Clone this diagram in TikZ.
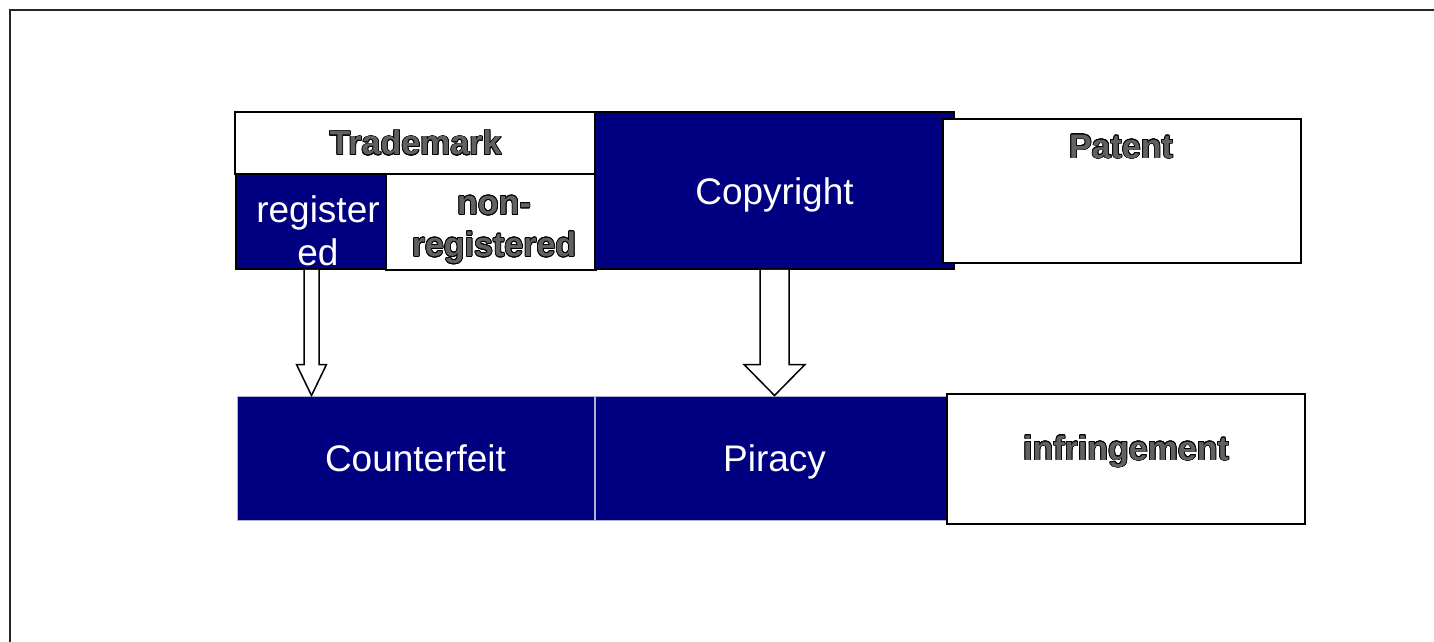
\documentclass[tikz,border=0pt]{standalone}
\usepackage{fontspec}
\setmainfont{Liberation Sans}
\usepackage{contour}
\usetikzlibrary{calc}
\usetikzlibrary{positioning}
\definecolor{navy}{HTML}{000080}
\contourlength{0.75pt}
\newcommand{\outl}[1]{\contour{black}{\textcolor{black!62}{#1}}}
% hollow block arrow: from, to, shaft half width, head half width, head length
\newcommand{\hollowarrow}[5]{
 \draw[hollow] let \p1=(#1), \p2=(#2) in
  (\x1-#3pt,\y1) -- (\x1-#3pt,\y2+#5pt) -- (\x1-#4pt,\y2+#5pt) -- (\x1,\y2)
  -- (\x1+#4pt,\y2+#5pt) -- (\x1+#3pt,\y2+#5pt) -- (\x1+#3pt,\y1);
}

\begin{document}
\begin{tikzpicture}[x=1pt,y=-1pt,
 navybox/.style={draw=black, line width=1.6pt, fill=navy, text=white, inner sep=0pt, text height=27pt, text depth=0pt, font=\fontsize{37}{43}\selectfont},
 flatbox/.style={draw=navy!30, line width=1pt, fill=navy, text=white, inner sep=0pt, text height=27pt, text depth=0pt, font=\fontsize{37}{43}\selectfont},
 whitebox/.style={draw=black, line width=1.6pt, fill=white, inner sep=0pt, font=\bfseries\fontsize{34}{42}\selectfont},
 wlabel/.style={text=white, inner sep=0pt, font=\fontsize{37}{43}\selectfont},
 olabel/.style={inner sep=0pt, font=\bfseries\fontsize{34}{42}\selectfont},
 hollow/.style={draw=black, line width=1.5pt, fill=white, line join=miter}]
\useasboundingbox (0,0) rectangle (1434,642);
\fill[white] (0,0) rectangle (1434,642);
\draw[line width=2.5pt, black!85] (10,642) -- (10,10) -- (1434,10);

% top row
\node[navybox, minimum width=151pt, minimum height=95pt] (registered) at (311.5,221.5) {};
\node[wlabel, align=center, anchor=north] (reglbl) at (318,195) {register\\ed};
\node[whitebox, minimum width=210pt, minimum height=96pt] (nonreg) at (491,222) {};
\node[olabel, align=center, anchor=north] (nonreglbl) at (494,196) {\outl{non-}\\\outl{registered}};
\node[whitebox, minimum width=361pt, minimum height=62pt] (trademark) at (415.5,143) {\outl{Trademark}};
\node[navybox, minimum width=359pt, minimum height=157pt] (copyright) at (774.5,190.5) {Copyright};
\node[whitebox, minimum width=358pt, minimum height=144pt] (patent) at (1122,191) {};
\node[olabel, anchor=base] (patentlbl) at (1121,158) {\outl{Patent}};

% bottom row
\node[flatbox, minimum width=357pt, minimum height=124pt] (counterfeit) at (415.5,458) {Counterfeit};
\node[flatbox, minimum width=351pt, minimum height=124pt] (piracy) at (770.5,458) {\hspace{8pt}Piracy};
\node[whitebox, minimum width=358pt, minimum height=130pt] (infringement) at (1126,459) {};
\node[olabel, anchor=base] (infrlbl) at (1126,460) {\outl{infringement}};

% arrows
\hollowarrow{registered.south}{counterfeit.north}{7.5}{15}{31}
\hollowarrow{copyright.south}{piracy.north}{14.5}{30.5}{31}
\end{tikzpicture}
\end{document}
